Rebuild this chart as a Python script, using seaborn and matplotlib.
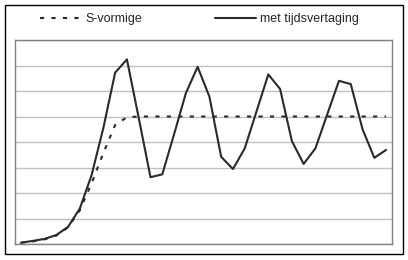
import matplotlib
matplotlib.use("Agg")
import matplotlib.pyplot as plt
from matplotlib.patches import Rectangle
import numpy as np
import pandas as pd
import seaborn as sns

# ---- data ----
series_names = ["S-vormige", "met tijdsvertaging"]
t = list(range(32))
s_vormige = [0.05, 0.10, 0.18, 0.33, 0.65, 1.32, 2.38, 3.57, 4.67, 4.97,
             5.0, 5.0, 5.0, 5.0, 5.0, 5.0, 5.0, 5.0, 5.0, 5.0,
             5.0, 5.0, 5.0, 5.0, 5.0, 5.0, 5.0, 5.0, 5.0, 5.0,
             5.0, 5.0]
met_tijdsvertaging = [0.05, 0.12, 0.20, 0.35, 0.67, 1.39, 2.70, 4.55, 6.72, 7.24,
                      4.95, 2.62, 2.73, 4.30, 5.91, 6.95, 5.78, 3.42, 2.94, 3.75,
                      5.20, 6.65, 6.08, 4.04, 3.14, 3.75, 5.08, 6.40, 6.27, 4.50,
                      3.38, 3.69]

df = pd.DataFrame({
    "t": t * 2,
    "waarde": s_vormige + met_tijdsvertaging,
    "reeks": [series_names[0]] * len(t) + [series_names[1]] * len(t),
})

sns.set_theme(style="white")
plt.rcParams["font.family"] = ["Liberation Sans", "DejaVu Sans"]

W, H = 408, 260
fig = plt.figure(figsize=(W / 100, H / 100), dpi=100)
fig.patch.set_facecolor("white")
ax = fig.add_axes([15 / W, 1 - 244 / H, (392 - 15) / W, (244 - 40) / H])
ax.set_facecolor("white")

line_color = "#2a2a2a"
sns.lineplot(
    data=df, x="t", y="waarde", hue="reeks", style="reeks",
    hue_order=series_names, style_order=series_names,
    palette={series_names[0]: line_color, series_names[1]: line_color},
    dashes={series_names[0]: (2, 3.5), series_names[1]: ""},
    linewidth=1.5, ax=ax, legend=True,
)

ax.set_xlim(-0.5, 31.5)
ax.set_ylim(0, 8)
ax.set_yticks(range(0, 9))
ax.set_xticks([])
ax.yaxis.grid(True, color="#c0c0c0", linewidth=1.0)
ax.xaxis.grid(False)
ax.tick_params(left=False, bottom=False, labelleft=False, labelbottom=False)
ax.set_xlabel("")
ax.set_ylabel("")
for sp in ax.spines.values():
    sp.set_visible(True)
    sp.set_color("#808080")
    sp.set_linewidth(1.0)

handles, labels = ax.get_legend_handles_labels()
ax.get_legend().remove()
fig.legend(
    handles, labels, ncol=2, loc="center left",
    bbox_to_anchor=(40 / W, 1 - 19 / H), frameon=False,
    fontsize=9, handlelength=3.3, handletextpad=0.35,
    columnspacing=5.8, borderpad=0, borderaxespad=0,
)

fig.add_artist(Rectangle((5 / W, 1 - 254 / H), (403 - 5) / W, (254 - 5) / H,
                         transform=fig.transFigure, fill=False,
                         edgecolor="black", linewidth=1.0))

fig.savefig("out.png", dpi=100, facecolor="white")
